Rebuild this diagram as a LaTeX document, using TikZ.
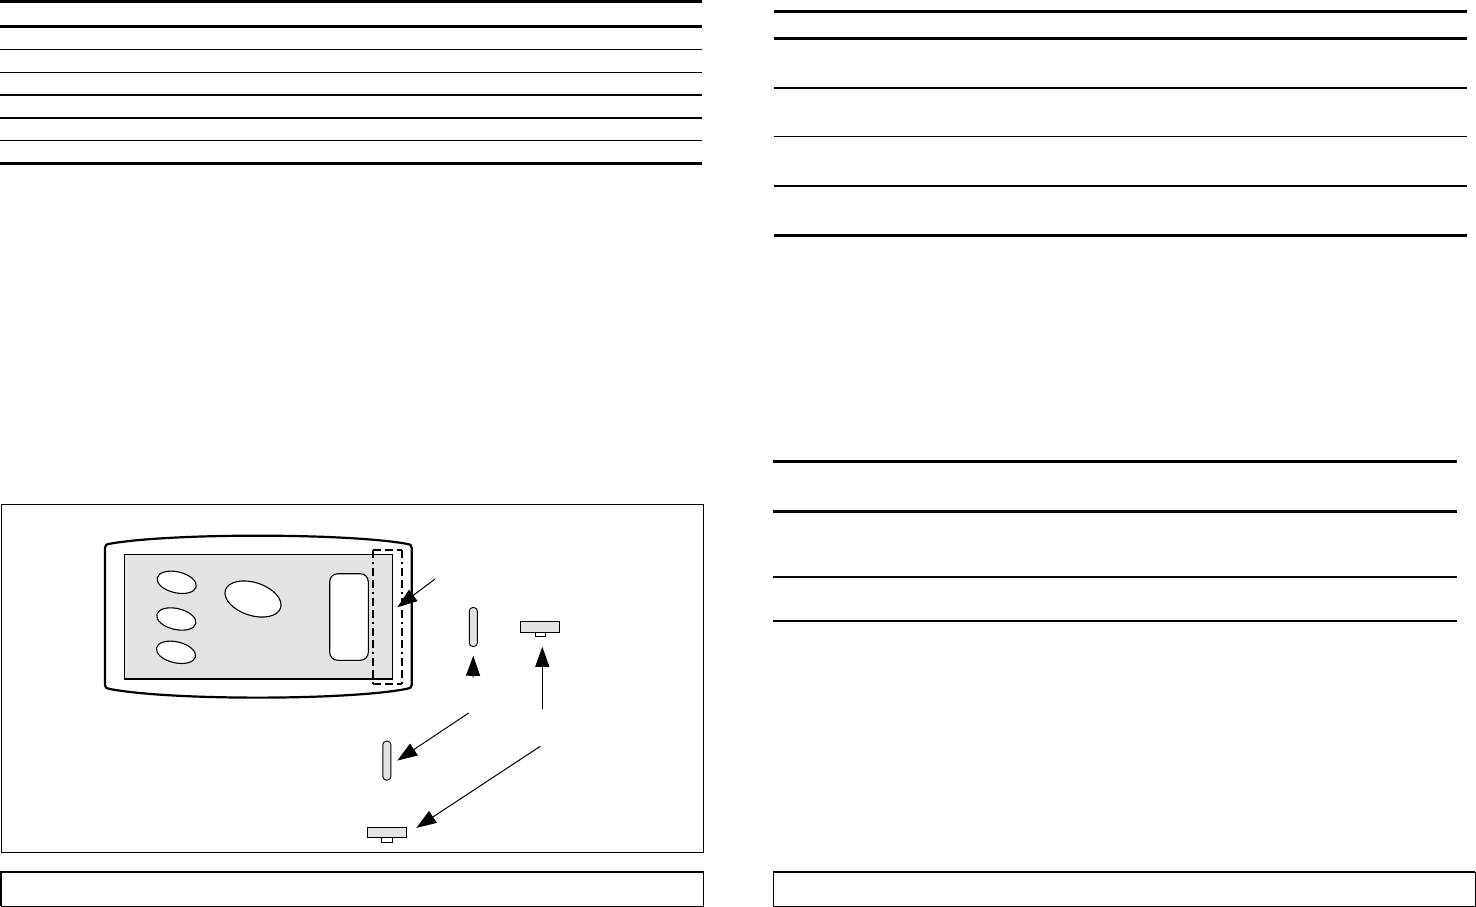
\documentclass[tikz,border=0pt]{standalone}
\usepackage{tikz}
\usetikzlibrary{arrows.meta,positioning,calc,shapes.geometric}
\definecolor{partgray}{HTML}{E3E3E3}
\tikzset{
  keypad/.style={ellipse,draw,line width=1.1pt,fill=white,inner sep=0pt,outer sep=0pt},
  window/.style={rectangle,rounded corners=8pt,draw,line width=1.1pt,fill=white,inner sep=0pt,outer sep=0pt,minimum width=38.6pt,minimum height=86.6pt},
  slotpart/.style={rectangle,rounded corners=3.5pt,draw,line width=0.9pt,fill=partgray,inner sep=0pt,outer sep=0pt,minimum width=8pt,minimum height=39pt},
  teepart/.style={rectangle,draw,line width=1pt,fill=partgray,inner sep=0pt,outer sep=0pt,minimum width=39pt,minimum height=10.3pt},
  teestub/.style={rectangle,draw,line width=0.9pt,fill=white,inner sep=0pt,outer sep=0pt,minimum width=10.3pt,minimum height=4.7pt},
  guide/.style={rectangle,inner sep=0pt,outer sep=0pt,minimum width=29pt,minimum height=134.3pt},
  dashside/.style={line width=2pt,dash pattern=on 8pt off 4pt},
  dotside/.style={line width=2pt,dash pattern=on 8pt off 4pt on 2pt off 4pt on 8pt off 4pt},
  pa/.style={-{Triangle[length=20pt,width=14pt]},line width=1pt},
  rulethin/.style={line width=1pt},
  rulemid/.style={line width=2pt},
  rulethick/.style={line width=3pt}
}

\begin{document}
\begin{tikzpicture}[x=1pt,y=-1pt]
\useasboundingbox (0,0) rectangle (1476,907);
% table rules
\foreach \ya/\st in {1.5/rulethick,26.2/rulethick,49.4/rulethin,72.4/rulethin,95/rulemid,117.7/rulemid,140.4/rulethin,163.3/rulethick}
  \draw[\st] (0,\ya) -- (702,\ya);
\foreach \ya/\st in {11.3/rulethick,38.3/rulethick,88/rulemid,136.3/rulethin,186/rulemid,235.3/rulethick}
  \draw[\st] (774,\ya) -- (1467,\ya);
\foreach \ya/\st in {461.3/rulethick,511.3/rulethick,577/rulemid,620.7/rulemid}
  \draw[\st] (773,\ya) -- (1457,\ya);
% figure frame and caption boxes
\draw[rulethin] (1.5,504.3) rectangle (703.5,852.3);
\draw[rulethin] (1,872) rectangle (703.5,906.3);
\draw[rulemid] (1,906.3) -- (1,872) -- (703.5,872);
\draw[rulethin] (773,872) rectangle (1475,906.3);
\draw[rulemid] (1475,872) -- (773,872);
% device
\draw[line width=2.2pt] (105,548) .. controls (105,545) and (106,544.5) .. (110,543.7)
  .. controls (170,533) and (345,533) .. (406,543.7) .. controls (410.5,544.5) and (411.7,545) .. (411.7,548)
  -- (411.7,685) .. controls (411.7,687.5) and (410.5,688) .. (406,689)
  .. controls (345,700.5) and (170,700.5) .. (110,689) .. controls (106,688) and (105,687.5) .. (105,685) -- cycle;
\draw[line width=1.4pt,fill=partgray] (124.3,554.3) rectangle (392.7,679);
\node[keypad,minimum width=40pt,minimum height=21pt,rotate=-13] (padA) at (176.7,582.3) {};
\node[keypad,minimum width=40pt,minimum height=21pt,rotate=-13] (padB) at (176.3,619) {};
\node[keypad,minimum width=40pt,minimum height=21pt,rotate=-13] (padC) at (176,652.3) {};
\node[keypad,minimum width=58pt,minimum height=33pt,rotate=-18] (padD) at (253,599) {};
\node[window] (win) at (349,617) {};
\node[guide] (slotarea) at (387.8,616.85) {};
\draw[dotside] (slotarea.north west) -- (slotarea.south west);
\draw[dotside] (slotarea.north east) -- (slotarea.south east);
\draw[dashside] (slotarea.north west) -- (slotarea.north east);
\draw[dashside] (slotarea.south west) -- (slotarea.south east);
% parts
\node[slotpart] (slotA) at (473.3,627) {};
\node[slotpart] (slotB) at (386.9,760.6) {};
\node[teepart] (teeA) at (540.3,626.9) {};
\node[teestub,below=0pt of teeA] (stubA) {};
\node[teepart] (teeB) at (386.8,832.5) {};
\node[teestub,below=0pt of teeB] (stubB) {};
% arrows
\coordinate (startA) at (435,579);
\coordinate (startB) at (473,677.3);
\coordinate (startC) at (542.3,708.7);
\coordinate (startD) at (468.7,713);
\coordinate (startE) at (540.3,746.3);
\draw[pa] (startA) -- ([xshift=-5pt,yshift=9.5pt]slotarea.east);
\draw[pa] (startB) -- ([yshift=-9.3pt]slotA.south);
\draw[pa] (startC) -- ([xshift=2pt,yshift=-10pt]stubA.south);
\draw[pa] (startD) -- ([xshift=6.4pt]slotB.east);
\draw[pa] (startE) -- ([xshift=10pt,yshift=4.6pt]teeB.east);
\end{tikzpicture}
\end{document}
